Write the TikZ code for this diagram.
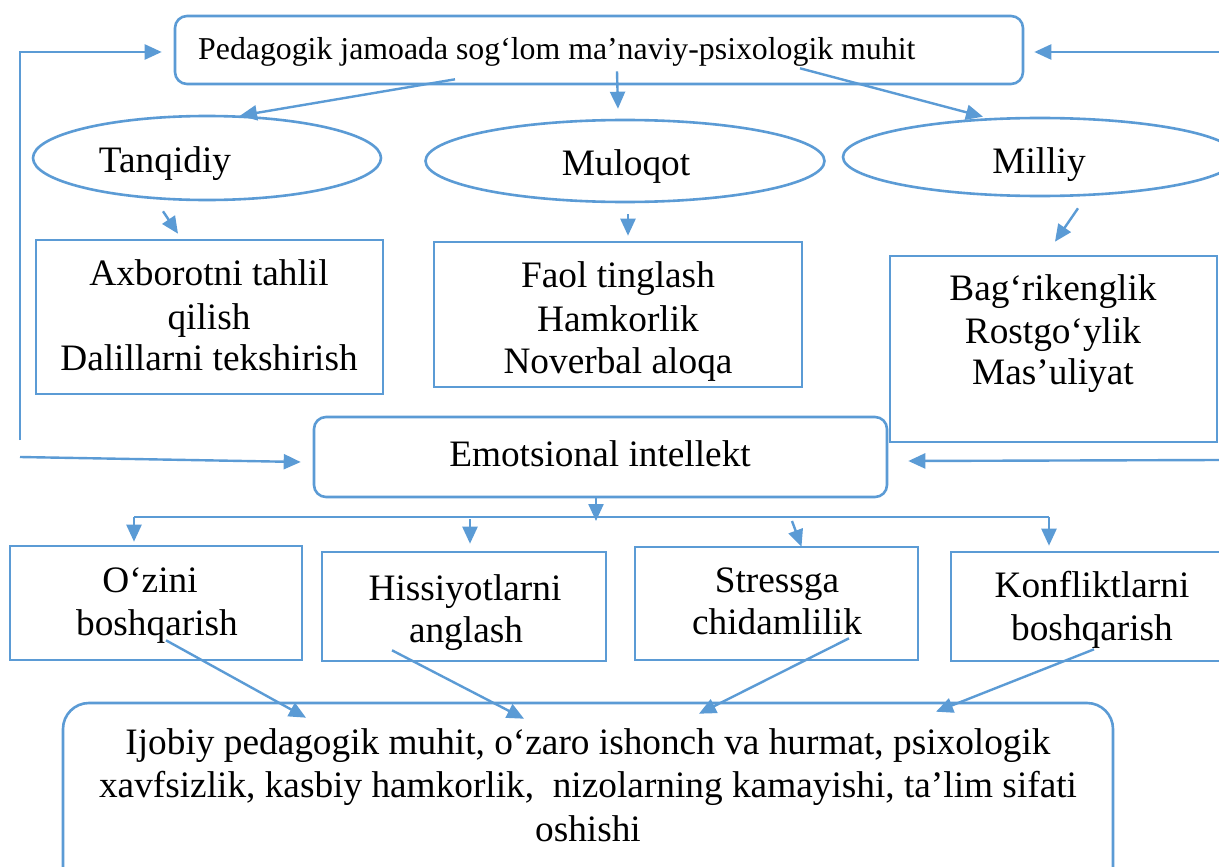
\documentclass[tikz,border=0pt]{standalone}
\usepackage{fontspec}
\setmainfont{Liberation Serif}
\usetikzlibrary{shapes.geometric,arrows.meta,calc}
\definecolor{blu}{HTML}{5B9BD5}
\tikzset{
  box/.style={draw=blu, line width=2.6pt, inner sep=0pt, fill=white},
  rbox/.style={box, rounded corners=12pt},
  ell/.style={box, ellipse},
  txt/.style={inner sep=0pt, anchor=base, font=\fontsize{37.3}{42}\selectfont},
  arr/.style={draw=blu, line width=2.4pt, -{Triangle[length=17pt,width=15pt]}},
  thin line/.style={draw=blu, line width=1.8pt}
}
\begin{document}
\begin{tikzpicture}[x=1pt,y=-1pt]
\useasboundingbox (0,0) rectangle (1219,867);
\clip (0,0) rectangle (1219,867);
\fill[white] (0,0) rectangle (1219,867);

% shapes
\node[rbox, minimum width=848pt, minimum height=68pt] (top) at (599,50) {};
\node[ell, minimum width=348pt, minimum height=84pt] (tanq) at (207,158) {};
\node[ell, minimum width=399pt, minimum height=82pt] (mul) at (625,161) {};
\node[ell, minimum width=394pt, minimum height=78pt] (mil) at (1040,157) {};
\node[box, minimum width=347pt, minimum height=154pt] (boxA) at (209.5,317) {};
\node[box, minimum width=368pt, minimum height=145pt] (boxB) at (618,314.5) {};
\node[box, minimum width=327pt, minimum height=186pt] (boxC) at (1053.5,349) {};
\node[rbox, minimum width=573pt, minimum height=80pt] (emo) at (600.5,457) {};
\node[box, minimum width=292pt, minimum height=114pt] (b1) at (156,603) {};
\node[box, minimum width=284pt, minimum height=109pt] (b2) at (464,606.5) {};
\node[box, minimum width=283pt, minimum height=113pt] (b3) at (776.5,603.5) {};
\node[box, minimum width=282pt, minimum height=109pt] (b4) at (1092,606.5) {};
\node[box, rounded corners=26pt, minimum width=1050pt, minimum height=200pt] (res) at (588,803) {};

% texts
\node[txt, anchor=base west, font=\fontsize{31.8}{36}\selectfont] (ttop) at (198,60) {Pedagogik jamoada sog‘lom ma’naviy-psixologik muhit};
\node[txt] (ttanq) at (165,172) {Tanqidiy};
\node[txt] (tmul) at (626,175) {Muloqot};
\node[txt] (tmil) at (1039,173) {Milliy};
\node[txt] (tA1) at (209,285) {Axborotni tahlil};
\node[txt] (tA2) at (209,329) {qilish};
\node[txt] (tA3) at (209,370) {Dalillarni tekshirish};
\node[txt] (tB1) at (618,287) {Faol tinglash};
\node[txt] (tB2) at (618,331) {Hamkorlik};
\node[txt] (tB3) at (618,373) {Noverbal aloqa};
\node[txt] (tC1) at (1053,300) {Bag‘rikenglik};
\node[txt] (tC2) at (1053,343) {Rostgo‘ylik};
\node[txt] (tC3) at (1053,384) {Mas’uliyat};
\node[txt] (temo) at (600,466) {Emotsional intellekt};
\node[txt] (t11) at (150,592) {O‘zini};
\node[txt] (t12) at (157,635) {boshqarish};
\node[txt] (t21) at (465,600) {Hissiyotlarni};
\node[txt] (t22) at (466,642) {anglash};
\node[txt] (t31) at (777,592) {Stressga};
\node[txt] (t32) at (777,634) {chidamlilik};
\node[txt] (t41) at (1092,597) {Konfliktlarni};
\node[txt] (t42) at (1092,640) {boshqarish};
\node[txt] (tr1) at (588,754) {Ijobiy pedagogik muhit, o‘zaro ishonch va hurmat, psixologik};
\node[txt] (tr2) at (588,797) {xavfsizlik, kasbiy hamkorlik,\ \ nizolarning kamayishi, ta’lim sifati};
\node[txt] (tr3) at (588,841) {oshishi};

% free ends
\coordinate (L0) at (20,52);
\coordinate (L1) at (20,440);
\coordinate (L2) at (20,457);
\coordinate (R0) at (1219,52);
\coordinate (R1) at (1219,460);
\coordinate (DL) at (134,517);
\coordinate (DR) at (1049,517);
\coordinate (D0) at (596,521);
\coordinate (D2) at (470,519);
\coordinate (D3) at (792,521);

% loops
\draw[arr] (L1) -- (L0) -- ($(top.west)+(-12,2)$);
\draw[arr] (R0) -- ($(top.east)+(10,2)$);
\draw[arr] (L2) -- ($(emo.west)+(-12,5)$);
\draw[arr] (R1) -- ($(emo.east)+(20,4)$);

% top to ellipses
\draw[arr] ($(top.south)+(-144,-6)$) -- ($(tanq.north)+(33,1)$);
\draw[arr] ($(top.south)+(18,-14)$) -- ($(mul.north)+(-7,-10)$);
\draw[arr] ($(top.south)+(201,-17)$) -- ($(mil.north)+(-57,0)$);

% ellipses to boxes
\draw[arr] ($(tanq.south)+(-44,10)$) -- ($(boxA.north)+(-31.5,-5)$);
\draw[arr] ($(mul.south)+(3,11)$) -- ($(boxB.north)+(10,-5)$);
\draw[arr] ($(mil.south)+(38,11)$) -- ($(boxC.north)+(1.5,-13)$);

% distribution
\draw[thin line] (DL) -- (DR);
\draw[arr] ($(emo.south)+(-4.5,0)$) -- (D0);
\draw[arr] (DL) -- ($(b1.north)+(-22,-3)$);
\draw[arr] (D2) -- ($(b2.north)+(6,-7)$);
\draw[arr] (D3) -- ($(b3.north)+(25,1)$);
\draw[arr] (DR) -- ($(b4.north)+(-43,-5)$);

% to result
\draw[arr] ($(b1.south)+(10,-21)$) -- ($(res.north)+(-282,16)$);
\draw[arr] ($(b2.south)+(-72,-12)$) -- ($(res.north)+(-64,17)$);
\draw[arr] ($(b3.south)+(72.5,-23)$) -- ($(res.north)+(111,12)$);
\draw[arr] ($(b4.south)+(2,-13)$) -- ($(res.north)+(348,10)$);
\end{tikzpicture}
\end{document}
